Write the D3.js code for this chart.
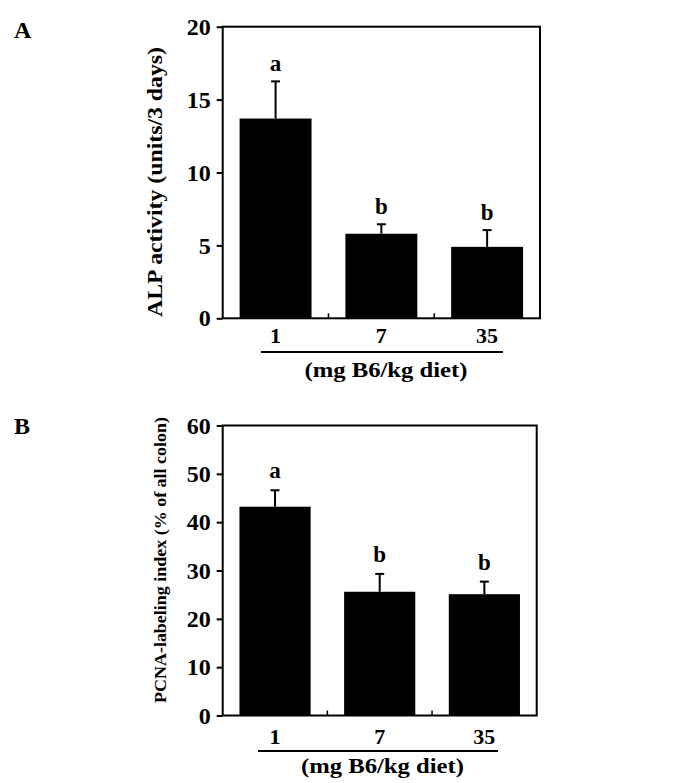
<!DOCTYPE html>
<html>
<head>
<meta charset="utf-8">
<script src="https://cdn.jsdelivr.net/npm/d3@7"></script>
<style>
  html, body { margin: 0; padding: 0; background: #fff; }
  svg text { font-family: "Liberation Serif", "Times New Roman", serif; font-weight: bold; fill: #000; }
</style>
</head>
<body>
<svg id="chart" width="688" height="783"></svg>
<script>
// ---- data ----
const categories = ["1", "7", "35"];
const alpMeans = [13.7, 5.8, 4.9];
const alpErrors = [2.55, 0.65, 1.15];
const alpLetters = ["a", "b", "b"];
const alpTicks = [0, 5, 10, 15, 20];
const pcnaMeans = [43.2, 25.6, 25.1];
const pcnaErrors = [3.4, 3.7, 2.6];
const pcnaLetters = ["a", "b", "b"];
const pcnaTicks = [0, 10, 20, 30, 40, 50, 60];
const xTitle = "(mg B6/kg diet)";

const svg = d3.select("#chart");

function drawPanel(cfg) {
  const g = svg.append("g");
  const x = d3.scaleBand().domain(categories).range([cfg.left, cfg.right])
    .paddingInner(0.32).paddingOuter(0.16);
  const y = d3.scaleLinear().domain([0, cfg.ymax]).range([cfg.bottom, cfg.top]);
  const rows = categories.map((c, i) => ({ c, m: cfg.means[i], e: cfg.errors[i], l: cfg.letters[i] }));

  // bars
  g.selectAll("rect.bar").data(rows).join("rect")
    .attr("x", d => x(d.c)).attr("width", x.bandwidth())
    .attr("y", d => y(d.m)).attr("height", d => y(0) - y(d.m))
    .attr("fill", "#000");

  // error bars (upper only)
  g.selectAll("line.err").data(rows).join("line")
    .attr("x1", d => x(d.c) + x.bandwidth() / 2).attr("x2", d => x(d.c) + x.bandwidth() / 2)
    .attr("y1", d => y(d.m)).attr("y2", d => y(d.m + d.e))
    .attr("stroke", "#000").attr("stroke-width", 2);
  g.selectAll("line.cap").data(rows).join("line")
    .attr("x1", d => x(d.c) + x.bandwidth() / 2 - 4.5).attr("x2", d => x(d.c) + x.bandwidth() / 2 + 4.5)
    .attr("y1", d => y(d.m + d.e)).attr("y2", d => y(d.m + d.e))
    .attr("stroke", "#000").attr("stroke-width", 2);

  // significance letters
  g.selectAll("text.sig").data(rows).join("text")
    .attr("x", d => x(d.c) + x.bandwidth() / 2)
    .attr("y", d => y(d.m + d.e) - cfg.letterGap)
    .attr("text-anchor", "middle").attr("font-size", 23)
    .text(d => d.l);

  // frame
  g.append("rect")
    .attr("x", cfg.left).attr("y", cfg.top)
    .attr("width", cfg.right - cfg.left).attr("height", cfg.bottom - cfg.top)
    .attr("fill", "none").attr("stroke", "#000").attr("stroke-width", 2);

  // y axis
  const yAxis = d3.axisLeft(y).tickValues(cfg.ticks).tickSize(6).tickPadding(6).tickFormat(d3.format("d"));
  const ya = g.append("g").attr("transform", `translate(${cfg.left},0)`).call(yAxis);
  ya.select(".domain").remove();
  ya.selectAll(".tick line").attr("stroke", "#000").attr("stroke-width", 2);
  ya.selectAll(".tick text").attr("font-size", 24).attr("fill", "#000");

  // separator ticks at band boundaries (inside)
  const step = x.step();
  const seps = categories.slice(1).map(c => x(c) - step * x.paddingInner() / 2);
  g.selectAll("line.sep").data(seps).join("line")
    .attr("x1", d => d).attr("x2", d => d)
    .attr("y1", cfg.bottom).attr("y2", cfg.bottom - 5)
    .attr("stroke", "#000").attr("stroke-width", 1.5);

  // category labels
  g.selectAll("text.cat").data(categories).join("text")
    .attr("x", d => x(d) + x.bandwidth() / 2)
    .attr("y", cfg.bottom + cfg.catOffset)
    .attr("text-anchor", "middle").attr("font-size", 22)
    .text(d => d);

  // underline
  g.append("line")
    .attr("x1", cfg.ulX1).attr("x2", cfg.ulX2)
    .attr("y1", cfg.ulY).attr("y2", cfg.ulY)
    .attr("stroke", "#000").attr("stroke-width", 2);

  // x title
  g.append("text")
    .attr("x", cfg.titleX).attr("y", cfg.titleY)
    .attr("text-anchor", "middle").attr("font-size", 22)
    .attr("textLength", 163).attr("lengthAdjust", "spacingAndGlyphs")
    .text(xTitle);

  // y title
  g.append("text")
    .attr("transform", `translate(${cfg.yLabelX},${cfg.yLabelY}) rotate(-90)`)
    .attr("text-anchor", "middle").attr("font-size", cfg.yLabelSize)
    .attr("textLength", cfg.yLabelLen).attr("lengthAdjust", "spacingAndGlyphs")
    .text(cfg.yLabel);

  // panel letter
  g.append("text")
    .attr("x", 14).attr("y", cfg.panelY)
    .attr("font-size", 24)
    .text(cfg.panel);
}

drawPanel({
  panel: "A", panelY: 38,
  means: alpMeans, errors: alpErrors, letters: alpLetters, ticks: alpTicks, ymax: 20,
  left: 222.7, right: 540, top: 26.7, bottom: 318.3,
  letterGap: 10, catOffset: 25,
  ulX1: 261, ulX2: 503, ulY: 352, titleX: 386, titleY: 377,
  yLabel: "ALP activity (units/3 days)", yLabelX: 162, yLabelY: 182, yLabelSize: 21, yLabelLen: 270
});

drawPanel({
  panel: "B", panelY: 434,
  means: pcnaMeans, errors: pcnaErrors, letters: pcnaLetters, ticks: pcnaTicks, ymax: 60,
  left: 222.7, right: 536.7, top: 425.5, bottom: 715.5,
  letterGap: 12, catOffset: 28,
  ulX1: 258, ulX2: 498, ulY: 751, titleX: 382.5, titleY: 773,
  yLabel: "PCNA-labeling index (% of all colon)", yLabelX: 166, yLabelY: 560, yLabelSize: 17, yLabelLen: 286
});
</script>
</body>
</html>
